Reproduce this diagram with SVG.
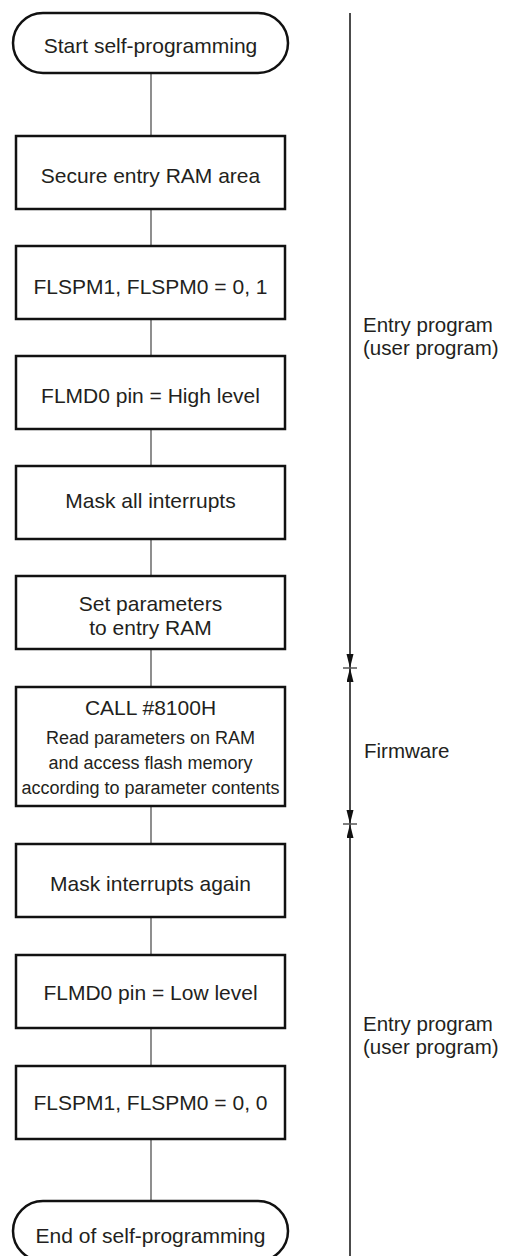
<svg xmlns="http://www.w3.org/2000/svg" width="505" height="1256" viewBox="0 0 505 1256">
<style>
.box{fill:#fff;stroke:#111;stroke-width:2.5}
.conn{stroke:#444;stroke-width:1.2;fill:none}
.span{stroke:#111;stroke-width:1.5;fill:none}
.tick{stroke:#555;stroke-width:1.5}
text{font-family:"Liberation Sans",Arial,sans-serif;fill:#231f20}
.t{font-size:21px;text-anchor:middle}
.s{font-size:18px;text-anchor:middle}
.l{font-size:20.5px}
</style>
<defs>
<marker id="ah" markerUnits="userSpaceOnUse" markerWidth="14" markerHeight="8" refX="14" refY="3.5" orient="auto-start-reverse">
<path d="M0,0 L14,3.5 L0,7 z" fill="#111"/>
</marker>
</defs>
<rect width="505" height="1256" fill="#fff"/>
<g id="connectors">
<line class="conn" x1="151" y1="73" x2="151" y2="136"/>
<line class="conn" x1="151" y1="209" x2="151" y2="246"/>
<line class="conn" x1="151" y1="319" x2="151" y2="356"/>
<line class="conn" x1="151" y1="429" x2="151" y2="466"/>
<line class="conn" x1="151" y1="539" x2="151" y2="576"/>
<line class="conn" x1="151" y1="649" x2="151" y2="687"/>
<line class="conn" x1="151" y1="806" x2="151" y2="844"/>
<line class="conn" x1="151" y1="917" x2="151" y2="955"/>
<line class="conn" x1="151" y1="1028" x2="151" y2="1066"/>
<line class="conn" x1="151" y1="1139" x2="151" y2="1201"/>
</g>
<g id="start">
<rect class="box" x="13" y="13" width="275" height="60" rx="30" ry="30"/>
<text class="t" x="150.5" y="53">Start self-programming</text>
</g>
<g id="secure">
<rect class="box" x="16" y="136" width="269" height="73"/>
<text class="t" x="150.5" y="183">Secure entry RAM area</text>
</g>
<g id="flspm01">
<rect class="box" x="16" y="246" width="269" height="73"/>
<text class="t" x="150.5" y="294">FLSPM1, FLSPM0 = 0, 1</text>
</g>
<g id="flmd0high">
<rect class="box" x="16" y="356" width="269" height="73"/>
<text class="t" x="150.5" y="403">FLMD0 pin = High level</text>
</g>
<g id="maskall">
<rect class="box" x="16" y="466" width="269" height="73"/>
<text class="t" x="150.5" y="508">Mask all interrupts</text>
</g>
<g id="setparams">
<rect class="box" x="16" y="576" width="269" height="73"/>
<text class="t" x="150.5" y="611">Set parameters</text>
<text class="t" x="150.5" y="635">to entry RAM</text>
</g>
<g id="call">
<rect class="box" x="16" y="687" width="269" height="119"/>
<text class="t" x="150.5" y="715">CALL #8100H</text>
<text class="s" x="150.5" y="744">Read parameters on RAM</text>
<text class="s" x="150.5" y="769">and access flash memory</text>
<text class="s" x="150.5" y="794">according to parameter contents</text>
</g>
<g id="maskagain">
<rect class="box" x="16" y="844" width="269" height="73"/>
<text class="t" x="150.5" y="891">Mask interrupts again</text>
</g>
<g id="flmd0low">
<rect class="box" x="16" y="955" width="269" height="73"/>
<text class="t" x="150.5" y="1000">FLMD0 pin = Low level</text>
</g>
<g id="flspm00">
<rect class="box" x="16" y="1066" width="269" height="73"/>
<text class="t" x="150.5" y="1110">FLSPM1, FLSPM0 = 0, 0</text>
</g>
<g id="end">
<rect class="box" x="13" y="1201" width="275" height="60" rx="30" ry="30"/>
<text class="t" x="150.5" y="1243">End of self-programming</text>
</g>
<g id="spans">
<line class="span" x1="350" y1="13" x2="350" y2="668" marker-end="url(#ah)"/>
<line class="span" x1="350" y1="668" x2="350" y2="824" marker-start="url(#ah)" marker-end="url(#ah)"/>
<line class="span" x1="350" y1="1256" x2="350" y2="824" marker-end="url(#ah)"/>
<line class="tick" x1="343" y1="668" x2="357" y2="668"/>
<line class="tick" x1="343" y1="824" x2="357" y2="824"/>
</g>
<g id="labels">
<text class="l" x="363" y="332">Entry program</text>
<text class="l" x="363" y="355">(user program)</text>
<text class="l" x="364" y="758">Firmware</text>
<text class="l" x="363" y="1031">Entry program</text>
<text class="l" x="363" y="1054">(user program)</text>
</g>
</svg>
